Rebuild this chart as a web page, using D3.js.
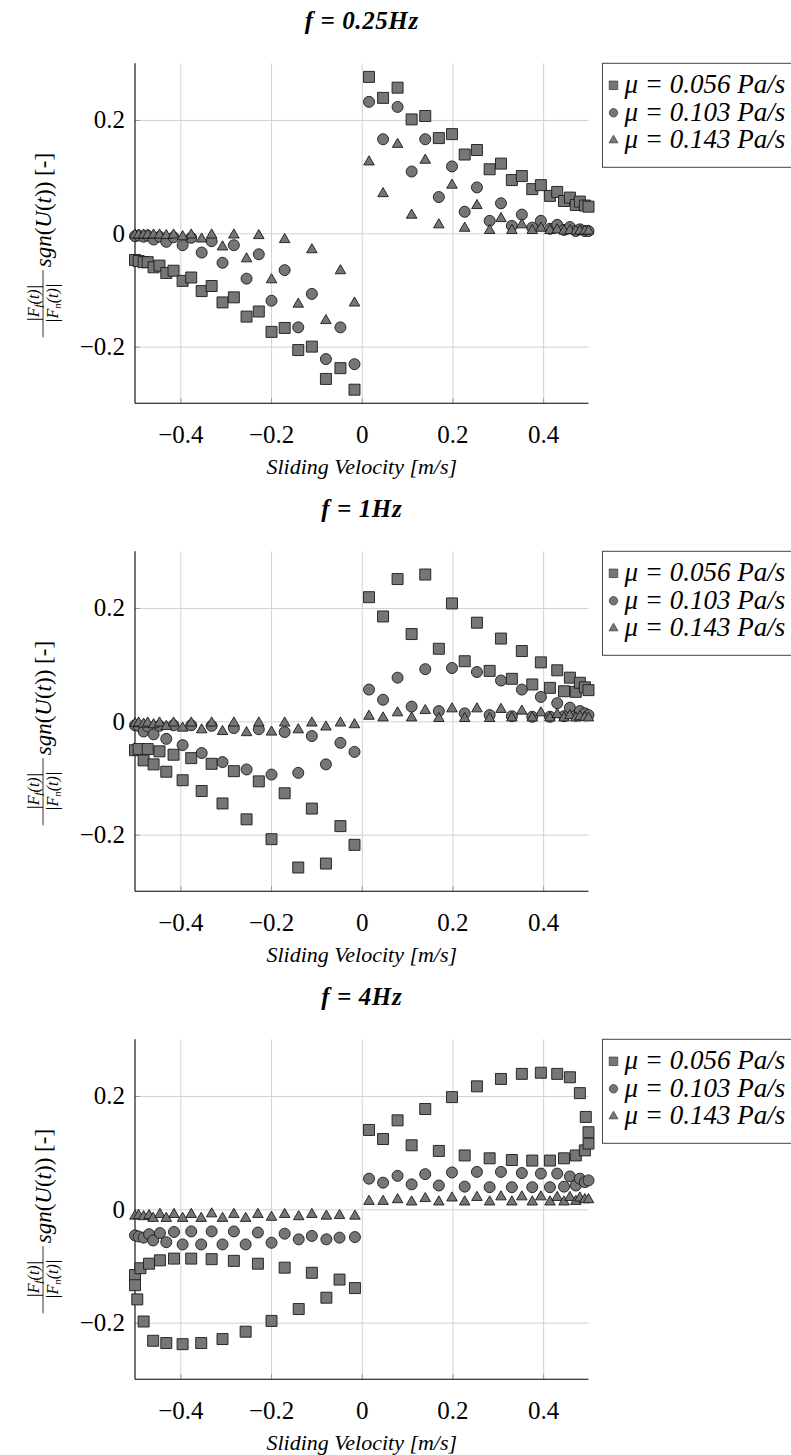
<!DOCTYPE html>
<html>
<head>
<meta charset="utf-8">
<script src="https://cdn.jsdelivr.net/npm/d3@7"></script>
<style>
  body { margin: 0; background: #fff; }
  svg text { font-family: "Liberation Serif", serif; fill: #000; }
</style>
</head>
<body>
<svg id="chart" width="791" height="1455"></svg>
<script>
// sliding velocity samples shared by the 0.25Hz and 1Hz panels
var velocity = [-0.5, -0.492, -0.481, -0.472, -0.459, -0.446, -0.431, -0.415, -0.395, -0.376, -0.353, -0.331,
  -0.307, -0.282, -0.254, -0.227, -0.199, -0.170, -0.140, -0.110, -0.079, -0.047, -0.016,
  0.016, 0.047, 0.079, 0.110, 0.140, 0.170, 0.199, 0.227, 0.254, 0.282, 0.307, 0.331, 0.353,
  0.376, 0.395, 0.415, 0.431, 0.446, 0.459, 0.472, 0.481, 0.492, 0.5];

// f = 0.25Hz
var f025_mu056 = [-0.047, -0.049, -0.051, -0.051, -0.060, -0.057, -0.070, -0.066, -0.084, -0.078, -0.102, -0.093,
  -0.122, -0.113, -0.147, -0.138, -0.174, -0.167, -0.206, -0.200, -0.257, -0.238, -0.276,
  0.276, 0.239, 0.257, 0.201, 0.207, 0.168, 0.175, 0.139, 0.147, 0.113, 0.123, 0.094, 0.101,
  0.078, 0.085, 0.066, 0.073, 0.057, 0.063, 0.050, 0.056, 0.049, 0.047];
var f025_mu103 = [-0.005, -0.004, -0.006, -0.004, -0.011, -0.006, -0.015, -0.007, -0.021, -0.008, -0.034, -0.014,
  -0.052, -0.021, -0.080, -0.037, -0.119, -0.065, -0.166, -0.107, -0.222, -0.166, -0.231,
  0.232, 0.166, 0.223, 0.109, 0.166, 0.064, 0.118, 0.038, 0.081, 0.022, 0.053, 0.013, 0.033,
  0.010, 0.022, 0.008, 0.015, 0.006, 0.011, 0.004, 0.007, 0.004, 0.004];
var f025_mu143 = [-0.003, -0.003, -0.003, -0.003, -0.003, -0.003, -0.004, -0.003, -0.006, -0.003, -0.010, -0.003,
  -0.024, -0.003, -0.045, -0.004, -0.082, -0.011, -0.125, -0.029, -0.154, -0.066, -0.123,
  0.126, 0.070, 0.157, 0.032, 0.129, 0.015, 0.085, 0.009, 0.049, 0.005, 0.026, 0.005, 0.015,
  0.005, 0.009, 0.005, 0.006, 0.004, 0.005, 0.004, 0.004, 0.004, 0.004];

// f = 1Hz
var f1_mu056 = [-0.051, -0.049, -0.069, -0.049, -0.076, -0.053, -0.089, -0.059, -0.104, -0.065, -0.123, -0.075,
  -0.145, -0.088, -0.173, -0.106, -0.208, -0.127, -0.258, -0.154, -0.251, -0.185, -0.218,
  0.219, 0.185, 0.251, 0.154, 0.259, 0.128, 0.208, 0.106, 0.174, 0.089, 0.146, 0.075, 0.124,
  0.065, 0.104, 0.059, 0.090, 0.053, 0.077, 0.052, 0.068, 0.060, 0.055];
var f1_mu103 = [-0.007, -0.008, -0.018, -0.009, -0.023, -0.008, -0.031, -0.007, -0.042, -0.007, -0.056, -0.008,
  -0.072, -0.012, -0.085, -0.014, -0.094, -0.019, -0.091, -0.026, -0.076, -0.038, -0.054,
  0.056, 0.038, 0.077, 0.026, 0.092, 0.018, 0.094, 0.014, 0.087, 0.011, 0.072, 0.009, 0.056,
  0.008, 0.043, 0.008, 0.032, 0.009, 0.024, 0.010, 0.018, 0.014, 0.011];
var f1_mu143 = [-0.004, -0.003, -0.005, -0.003, -0.006, -0.003, -0.009, -0.003, -0.012, -0.003, -0.015, -0.003,
  -0.018, -0.003, -0.020, -0.003, -0.019, -0.003, -0.015, -0.003, -0.010, -0.003, -0.006,
  0.009, 0.006, 0.015, 0.006, 0.019, 0.005, 0.022, 0.005, 0.022, 0.005, 0.021, 0.006, 0.018,
  0.006, 0.015, 0.006, 0.012, 0.006, 0.010, 0.006, 0.008, 0.007, 0.006];

// f = 4Hz
var velocity4_mu056 = [-0.5, -0.5, -0.495, -0.488, -0.481, -0.469, -0.460, -0.445, -0.431, -0.414, -0.395, -0.376,
  -0.354, -0.331, -0.307, -0.282, -0.256, -0.229, -0.199, -0.170, -0.139, -0.110, -0.078, -0.049, -0.015,
  0.016, 0.047, 0.079, 0.110, 0.140, 0.170, 0.199, 0.227, 0.254, 0.282, 0.307, 0.331, 0.353,
  0.376, 0.395, 0.415, 0.431, 0.446, 0.459, 0.472, 0.481, 0.492, 0.494, 0.5, 0.5];
var f4_mu056 = [-0.116, -0.134, -0.159, -0.104, -0.198, -0.096, -0.232, -0.090, -0.236, -0.087, -0.238, -0.087,
  -0.236, -0.088, -0.229, -0.091, -0.216, -0.096, -0.197, -0.103, -0.176, -0.112, -0.156, -0.124, -0.139,
  0.140, 0.124, 0.157, 0.113, 0.177, 0.103, 0.198, 0.095, 0.217, 0.090, 0.230, 0.087, 0.239,
  0.086, 0.241, 0.086, 0.239, 0.090, 0.233, 0.095, 0.205, 0.104, 0.163, 0.116, 0.136];
var velocity4 = [-0.5, -0.492, -0.481, -0.469, -0.460, -0.445, -0.431, -0.414, -0.395, -0.376, -0.354, -0.331,
  -0.307, -0.282, -0.256, -0.229, -0.199, -0.170, -0.139, -0.110, -0.078, -0.049, -0.015,
  0.016, 0.047, 0.079, 0.110, 0.140, 0.170, 0.199, 0.227, 0.254, 0.282, 0.307, 0.331, 0.353,
  0.376, 0.395, 0.415, 0.431, 0.446, 0.459, 0.472, 0.481, 0.492, 0.5];
var f4_mu103 = [-0.046, -0.048, -0.050, -0.044, -0.055, -0.042, -0.058, -0.040, -0.062, -0.039, -0.062, -0.039,
  -0.062, -0.039, -0.062, -0.041, -0.059, -0.043, -0.053, -0.047, -0.053, -0.050, -0.049,
  0.054, 0.047, 0.059, 0.044, 0.062, 0.042, 0.065, 0.040, 0.066, 0.039, 0.066, 0.039, 0.064,
  0.039, 0.063, 0.039, 0.063, 0.040, 0.058, 0.042, 0.054, 0.048, 0.051];
var f4_mu143 = [-0.012, -0.011, -0.013, -0.011, -0.016, -0.009, -0.016, -0.009, -0.016, -0.009, -0.016, -0.008,
  -0.016, -0.009, -0.016, -0.009, -0.014, -0.009, -0.013, -0.009, -0.012, -0.011, -0.012,
  0.014, 0.014, 0.017, 0.013, 0.019, 0.013, 0.020, 0.013, 0.021, 0.013, 0.022, 0.013, 0.022,
  0.013, 0.022, 0.013, 0.021, 0.013, 0.021, 0.014, 0.020, 0.017, 0.017];

var legendLabels = ["μ = 0.056 Pa/s", "μ = 0.103 Pa/s", "μ = 0.143 Pa/s"];
var xTicks = [-0.4, -0.2, 0, 0.2, 0.4];
var yTicks = [-0.2, 0, 0.2];

var panels = [
  { title: "f = 0.25Hz", series: [[velocity, f025_mu056], [velocity, f025_mu103], [velocity, f025_mu143]] },
  { title: "f = 1Hz", series: [[velocity, f1_mu056], [velocity, f1_mu103], [velocity, f1_mu143]] },
  { title: "f = 4Hz", series: [[velocity4_mu056, f4_mu056], [velocity4, f4_mu103], [velocity4, f4_mu143]] }
];

var svg = d3.select("#chart");
var left = 135, width = 453.5, height = 340, step = 488, top0 = 63.3;
var shapes = [d3.symbolSquare, d3.symbolCircle, d3.symbolTriangle];
var sizes = [121, 95, 48];
var legendSizes = [72, 56, 34];
var fmt = function(d) { return Math.abs(d) < 1e-9 ? "0" : d3.format(".1f")(d); };

panels.forEach(function(p, i) {
  var top = top0 + i * step;
  var x = d3.scaleLinear().domain([-0.5, 0.5]).range([left, left + width]);
  var y = d3.scaleLinear().domain([-0.3, 0.3]).range([top + height, top]);
  var g = svg.append("g");

  // grid
  g.append("g").attr("transform", "translate(0," + (top + height) + ")")
    .call(d3.axisBottom(x).tickValues(xTicks).tickSize(-height).tickFormat(""))
    .call(function(a) { a.select(".domain").remove(); a.selectAll("line").attr("stroke", "#d2d2d2"); });
  g.append("g").attr("transform", "translate(" + left + ",0)")
    .call(d3.axisLeft(y).tickValues(yTicks).tickSize(-width).tickFormat(""))
    .call(function(a) { a.select(".domain").remove(); a.selectAll("line").attr("stroke", "#d2d2d2"); });

  // small tick marks + labels
  g.append("g").attr("transform", "translate(0," + (top + height) + ")")
    .call(d3.axisBottom(x).tickValues(xTicks).tickSize(-5).tickFormat(fmt).tickPadding(22))
    .call(function(a) {
      a.select(".domain").remove();
      a.selectAll("line").attr("stroke", "#999");
      a.selectAll("text").attr("font-size", 25).attr("font-family", "Liberation Serif");
    });
  g.append("g").attr("transform", "translate(" + left + ",0)")
    .call(d3.axisLeft(y).tickValues(yTicks).tickSize(-5).tickFormat(fmt).tickPadding(10))
    .call(function(a) {
      a.select(".domain").remove();
      a.selectAll("line").attr("stroke", "#999");
      a.selectAll("text").attr("font-size", 25).attr("font-family", "Liberation Serif");
    });

  // axis lines (left and bottom only)
  g.append("line").attr("x1", left).attr("x2", left).attr("y1", top).attr("y2", top + height)
    .attr("stroke", "#000").attr("stroke-width", 1.1);
  g.append("line").attr("x1", left).attr("x2", left + width).attr("y1", top + height).attr("y2", top + height)
    .attr("stroke", "#000").attr("stroke-width", 1.1);

  // markers
  p.series.forEach(function(s, k) {
    var pts = d3.zip(s[0], s[1]);
    g.append("g").selectAll("path").data(pts).enter().append("path")
      .attr("d", d3.symbol().type(shapes[k]).size(sizes[k]))
      .attr("transform", function(d) { return "translate(" + x(d[0]) + "," + y(d[1]) + ")"; })
      .attr("fill", "#767676").attr("stroke", "#1a1a1a").attr("stroke-width", 0.9);
  });

  // title
  svg.append("text").attr("x", x(0)).attr("y", top - 34).attr("text-anchor", "middle")
    .attr("font-size", 25).attr("letter-spacing", 0.6).attr("font-weight", "bold").attr("font-style", "italic").text(p.title);

  // x label
  svg.append("text").attr("x", x(0)).attr("y", top + height + 71).attr("text-anchor", "middle")
    .attr("font-size", 22).attr("font-style", "italic").attr("fill", "#222").text("Sliding Velocity [m/s]");

  // y label with fraction
  var yl = svg.append("g").attr("transform", "translate(43," + y(0) + ") rotate(-90)");
  var num = yl.append("text").attr("x", -70).attr("y", -4).attr("text-anchor", "middle").attr("font-size", 16)
    .attr("font-style", "italic").text("|F");
  num.append("tspan").attr("font-size", 11).attr("dy", 3).text("f");
  num.append("tspan").attr("dy", -3).text("(t)|");
  var den = yl.append("text").attr("x", -70).attr("y", 15).attr("text-anchor", "middle").attr("font-size", 16)
    .attr("font-style", "italic").text("|F");
  den.append("tspan").attr("font-size", 11).attr("dy", 3).text("n");
  den.append("tspan").attr("dy", -3).text("(t)|");
  yl.append("line").attr("x1", -104).attr("x2", -37).attr("y1", 0).attr("y2", 0).attr("stroke", "#000").attr("stroke-width", 0.8);
  var main = yl.append("text").attr("x", -34).attr("y", 8).attr("font-size", 23).attr("font-style", "italic");
  main.append("tspan").text("sgn");
  main.append("tspan").attr("font-style", "normal").text("(");
  main.append("tspan").text("U");
  main.append("tspan").attr("font-style", "normal").text("(");
  main.append("tspan").text("t");
  main.append("tspan").attr("font-style", "normal").text(")) [-]");

  // legend
  var lg = svg.append("g").attr("transform", "translate(602.5," + top + ")");
  lg.append("rect").attr("x", 0).attr("y", 0).attr("width", 200).attr("height", 104)
    .attr("fill", "#fff").attr("stroke", "#444").attr("stroke-width", 1);
  legendLabels.forEach(function(t, k) {
    var cy = 22 + k * 27.5;
    lg.append("path").attr("d", d3.symbol().type(shapes[k]).size(legendSizes[k]))
      .attr("transform", "translate(11," + cy + ")")
      .attr("fill", "#767676").attr("stroke", "#333").attr("stroke-width", 0.7);
    lg.append("text").attr("x", 22).attr("y", cy + 8).attr("font-size", 27).attr("font-style", "italic").text(t);
  });
});
</script>
</body>
</html>
